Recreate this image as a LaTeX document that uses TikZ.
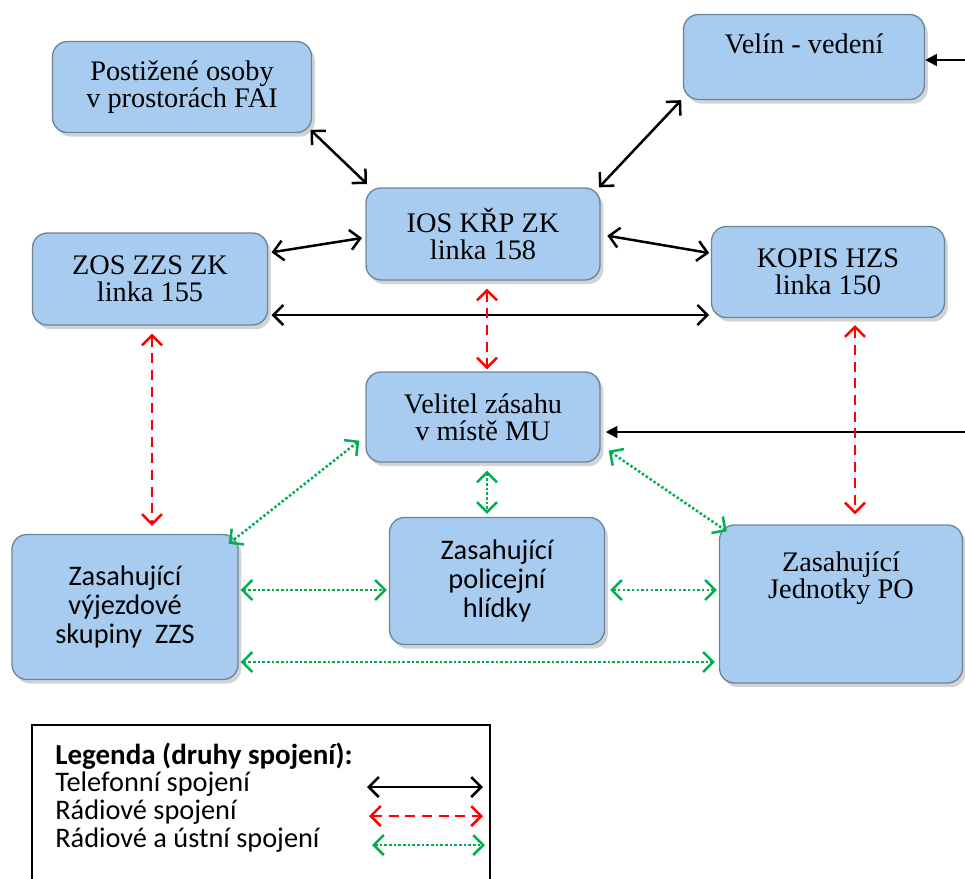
\documentclass[tikz,border=0pt]{standalone}
\usepackage{fontspec}
\setmainfont{Liberation Serif}
\setsansfont{Carlito}
\usetikzlibrary{arrows.meta,shadows}
\definecolor{boxblue}{RGB}{168,204,240}
\definecolor{linkred}{RGB}{255,0,0}
\definecolor{linkgreen}{RGB}{0,176,80}
\tikzset{
    rounded-box/.style = {draw=boxblue!65!black, fill=boxblue, line width=0.8pt, rectangle, rounded corners=9pt, align=center, inner sep=2pt,
        drop shadow={shadow xshift=2pt, shadow yshift=-2.5pt, opacity=0.35}, font=\fontsize{17}{16.2}\selectfont},
    rounded-box-sans/.style = {rounded-box, font=\sffamily\fontsize{17}{17.4}\selectfont},
    link/.style = {line width=1.5pt, {Straight Barb[length=6pt,width=12pt]}-{Straight Barb[length=6pt,width=12pt]}},
    phone-link/.style = {link, black},
    radio-link/.style = {link, linkred, dash pattern=on 6pt off 4pt},
    voice-link/.style = {link, linkgreen, dash pattern=on 1.5pt off 1.3pt},
    feed-link/.style = {line width=1.5pt, -{Triangle[length=7pt,width=7pt]}},
    legend-text/.style = {anchor=base west, inner sep=0pt, font=\sffamily\fontsize{17}{17.4}\selectfont},
}
\begin{document}
\begin{tikzpicture}[x=0.6pt,y=-0.6pt]
\useasboundingbox (0,0) rectangle (965,878);

% boxes
\node [rounded-box, minimum width=155.4pt, minimum height=54.6pt] (postizene) at (182,87) {Postižené osoby\\v prostorách FAI};
\node [rounded-box, minimum width=144.6pt, minimum height=51pt] (velin) at (804,57) {Velín - vedení\\\mbox{}};
\node [rounded-box, minimum width=140.4pt, minimum height=55.2pt] (ios) at (483,234) {IOS KŘP ZK\\linka 158};
\node [rounded-box, minimum width=141pt, minimum height=55.2pt] (zos) at (150,279) {ZOS ZZS ZK\\linka 155};
\node [rounded-box, minimum width=139.8pt, minimum height=54.6pt] (kopis) at (828,272) {KOPIS HZS\\linka 150};
\node [rounded-box, minimum width=140.4pt, minimum height=54pt] (velitel) at (483,417) {Velitel zásahu\\v místě MU};
\node [rounded-box-sans, minimum width=135.6pt, minimum height=87pt] (zzs) at (125,607) {Zasahující\\výjezdové\\skupiny~ ZZS};
\node [rounded-box-sans, minimum width=129pt, minimum height=76.2pt] (policie) at (497,581) {Zasahující\\policejní\\hlídky};
\node [rounded-box, minimum width=145.8pt, minimum height=94.8pt] (jednotky) at (841,604) {Zasahující\\Jednotky PO\\[18pt]\mbox{}};

% telefonni spojeni
\draw [phone-link] ([xshift=-1pt,yshift=2pt]postizene.south east) -- ([xshift=1pt,yshift=2pt]ios.north west);
\draw [phone-link] ([xshift=-1pt]velin.south west) -- ([xshift=-1pt]ios.north east);
\draw [phone-link] ([xshift=2pt,yshift=16pt]zos.east) -- ([xshift=-2pt,yshift=-2.4pt]ios.west);
\draw [phone-link] ([xshift=4pt,yshift=-1pt]ios.east) -- ([xshift=-1pt,yshift=11.4pt]kopis.west);
\draw [phone-link] ([xshift=2pt,yshift=-21.6pt]zos.east) -- ([xshift=-1pt,yshift=-21.6pt]zos.east -| kopis.west);
\coordinate (velin-in) at (968,60);
\coordinate (velitel-in) at (968,432);
\draw [feed-link] (velin-in) -- (velin-in -| velin.east);
\draw [feed-link] (velitel-in) -- ([xshift=3pt]velitel-in -| velitel.east);

% radiove spojeni
\draw [radio-link] ([xshift=1.2pt,yshift=-4.8pt]zos.south) -- ([xshift=1.2pt,yshift=4.8pt]zos.south |- zzs.north);
\draw [radio-link] ([xshift=2.4pt,yshift=-4.8pt]ios.south) -- ([xshift=2.4pt,yshift=1.2pt]ios.south |- velitel.north);
\draw [radio-link] ([xshift=16.2pt,yshift=-4.2pt]kopis.south) -- ([xshift=16.2pt,yshift=6pt]kopis.south |- jednotky.north);

% radiove a ustni spojeni
\draw [voice-link] ([xshift=-3.6pt,yshift=13.2pt]velitel.south west) -- ([xshift=-6pt,yshift=-6pt]zzs.north east);
\draw [voice-link] ([xshift=2.4pt,yshift=-4.8pt]velitel.south) -- ([xshift=2.4pt,yshift=1.8pt]velitel.south |- policie.north);
\draw [voice-link] ([xshift=4.8pt,yshift=7.2pt]velitel.south east) -- ([xshift=4.8pt,yshift=-4.2pt]jednotky.north west);
\draw [voice-link] ([xshift=1.2pt,yshift=10.2pt]zzs.east) -- ([xshift=-1.2pt,yshift=10.2pt]zzs.east -| policie.west);
\draw [voice-link] ([xshift=3pt,yshift=-5.4pt]policie.east) -- ([xshift=-1.2pt,yshift=-5.4pt]policie.east -| jednotky.west);
\draw [voice-link] ([xshift=1.2pt,yshift=-33pt]zzs.east) -- ([xshift=-2.4pt,yshift=-33pt]zzs.east -| jednotky.west);

% legenda
\draw [line width=1.5pt] (32,890) -- (32,725) -- (490,725) -- (490,890);
\node [legend-text, font=\sffamily\bfseries\fontsize{17.4}{17.4}\selectfont] (leg-title) at (55,764) {Legenda (druhy spojení):};
\node [legend-text] (leg-phone) at (55,791) {Telefonní spojení};
\node [legend-text] (leg-radio) at (55,819) {Rádiové spojení};
\node [legend-text] (leg-voice) at (55,847) {Rádiové a ústní spojení};
\coordinate (leg-phone-a) at (367,787);
\coordinate (leg-phone-b) at (483,787);
\coordinate (leg-radio-a) at (369,816);
\coordinate (leg-radio-b) at (483,816);
\coordinate (leg-voice-a) at (372,845);
\coordinate (leg-voice-b) at (485,845);
\draw [phone-link] (leg-phone-a) -- (leg-phone-b);
\draw [radio-link] (leg-radio-a) -- (leg-radio-b);
\draw [voice-link] (leg-voice-a) -- (leg-voice-b);
\end{tikzpicture}
\end{document}
